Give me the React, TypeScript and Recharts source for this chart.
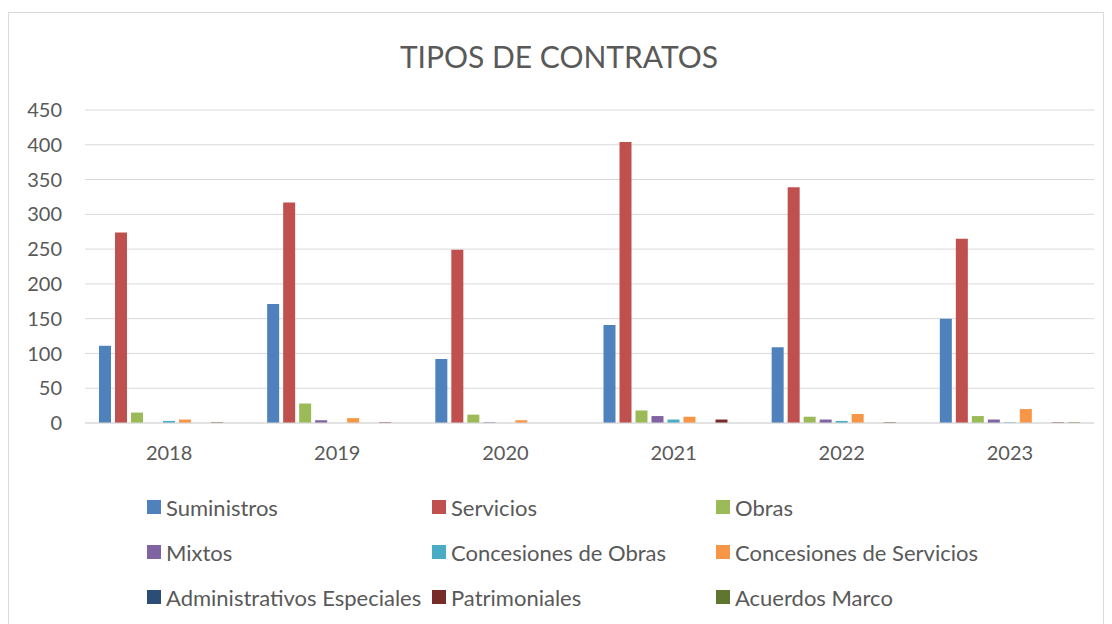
import React from "react";
import { BarChart, Bar, XAxis, YAxis, CartesianGrid } from "recharts";

const years = ["2018", "2019", "2020", "2021", "2022", "2023"];
const seriesNames = [
  "Suministros",
  "Servicios",
  "Obras",
  "Mixtos",
  "Concesiones de Obras",
  "Concesiones de Servicios",
  "Administrativos Especiales",
  "Patrimoniales",
  "Acuerdos Marco",
];
const seriesColors = [
  "#4F81BD",
  "#C0504D",
  "#9BBB59",
  "#8064A2",
  "#4BACC6",
  "#F79646",
  "#2C4D75",
  "#772C2A",
  "#5F7530",
];
const suministros = [111, 171, 92, 141, 109, 150];
const servicios = [274, 317, 249, 404, 339, 265];
const obras = [15, 28, 12, 18, 9, 10];
const mixtos = [0, 4, 1, 10, 5, 5];
const concesionesObras = [3, 0, 0, 5, 3, 1];
const concesionesServicios = [5, 7, 4, 9, 13, 20];
const administrativosEspeciales = [0, 0, 0, 0, 0, 0];
const patrimoniales = [1, 1, 0, 5, 1, 1];
const acuerdosMarco = [0, 0, 0, 0, 0, 1];
const yTicks = [0, 50, 100, 150, 200, 250, 300, 350, 400, 450];

const seriesValues = [
  suministros,
  servicios,
  obras,
  mixtos,
  concesionesObras,
  concesionesServicios,
  administrativosEspeciales,
  patrimoniales,
  acuerdosMarco,
];

const data = years.map((y, i) => {
  const row: Record<string, string | number> = { year: y };
  seriesNames.forEach((n, s) => {
    row[n] = seriesValues[s][i];
  });
  return row;
});

const FONT = "Lato, 'Open Sans', sans-serif";
const TEXT = "#595959";

const legendCols = [138, 423, 707];
const legendRows = [494, 539, 584];

export default function App() {
  return (
    <div
      style={{
        position: "relative",
        width: 1096,
        height: 640,
        marginTop: 4,
        border: "1px solid #D9D9D9",
        boxSizing: "border-box",
        background: "#fff",
        fontFamily: FONT,
      }}
    >
      <div
        style={{
          position: "absolute",
          top: 23,
          left: 0,
          width: 1100,
          textAlign: "center",
          fontSize: 30,
          color: TEXT,
          lineHeight: "40px",
        }}
      >
        TIPOS DE CONTRATOS
      </div>
      <BarChart
        width={1094}
        height={500}
        data={data}
        margin={{ top: 97, right: 9, bottom: 60, left: 0 }}
        barCategoryGap={14}
        barGap={4}
      >
        <CartesianGrid vertical={false} stroke="#D9D9D9" strokeWidth={1} />
        <XAxis
          dataKey="year"
          tickLine={false}
          axisLine={{ stroke: "#D9D9D9" }}
          tickSize={0}
          tickMargin={23}
          tick={{ fill: TEXT, fontSize: 20, fontFamily: FONT }}
          interval={0}
        />
        <YAxis
          domain={[0, 450]}
          ticks={yTicks}
          width={76}
          axisLine={false}
          tickLine={false}
          tickSize={0}
          tickMargin={23}
          tick={{ fill: TEXT, fontSize: 20, fontFamily: FONT }}
          interval={0}
        />
        {seriesNames.map((n, i) => (
          <Bar
            key={n}
            dataKey={n}
            fill={seriesColors[i]}
            isAnimationActive={false}
          />
        ))}
      </BarChart>
      {seriesNames.map((n, i) => (
        <div
          key={n}
          style={{
            position: "absolute",
            left: legendCols[i % 3],
            top: legendRows[Math.floor(i / 3)] - 14,
            height: 28,
            display: "flex",
            alignItems: "center",
            fontSize: 22,
            color: TEXT,
            whiteSpace: "nowrap",
          }}
        >
          <span
            style={{
              display: "inline-block",
              width: 14,
              height: 14,
              background: seriesColors[i],
              marginRight: 5,
            }}
          />
          {n}
        </div>
      ))}
    </div>
  );
}
